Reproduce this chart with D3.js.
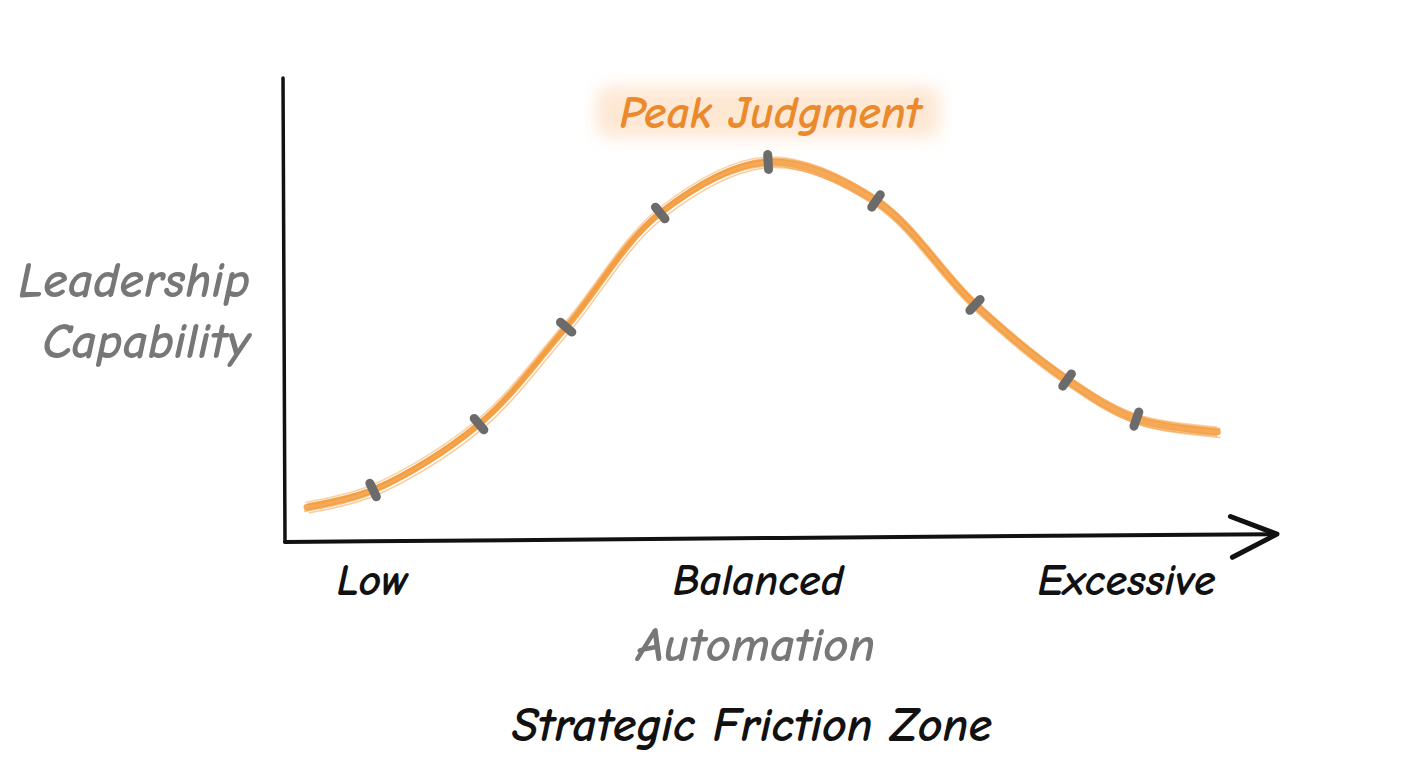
<!DOCTYPE html>
<html>
<head>
<meta charset="utf-8">
<script src="https://cdn.jsdelivr.net/npm/d3@7"></script>
<style>
  body { margin: 0; background: #fff; }
  svg text { font-family: "Comic Sans MS", "Comic Neue", Inter, Lato, sans-serif; font-style: italic; font-weight: 600; }
</style>
</head>
<body>
<svg id="chart" width="1408" height="768"></svg>
<script>
// automation level (x) vs leadership capability (y)
const automation = [0.22, 0.89, 1.96, 2.84, 3.79, 4.88, 5.97, 6.97, 7.9, 8.6, 9.42]
const capability = [7.5, 11.2, 25.4, 46.3, 70.9, 81.9, 73.5, 51.1, 34.9, 26.5, 23.7]
const markerIdx = [1, 2, 3, 4, 5, 6, 7, 8, 9]
const tickValues = [0.88, 4.78, 8.5]
const tickLabels = ["Low", "Balanced", "Excessive"]
const peakLabel = "Peak Judgment"
const yLabel = ["Leadership", "Capability"]
const xLabel = "Automation"
const zoneLabel = "Strategic Friction Zone"

const svg = d3.select("#chart")

const x = d3.scaleLinear().domain([0, 10]).range([285, 1275])
const y = d3.scaleLinear().domain([0, 100]).range([542, 78])

const D = automation.map((v, i) => ({x: v, y: capability[i]}))

// soft glow behind the peak label
const defs = svg.append("defs")
defs.append("filter").attr("id", "glow")
    .attr("x", "-20%").attr("y", "-60%").attr("width", "140%").attr("height", "220%")
  .append("feGaussianBlur").attr("stdDeviation", 8)

// axes, hand drawn-ish
const axisLine = d3.line().curve(d3.curveBasis)
svg.append("path")
    .attr("d", axisLine([[x(-0.02), y(100)], [x(-0.01), y(50)], [x(0), y(0)]]))
    .attr("fill", "none").attr("stroke", "#111").attr("stroke-width", 3.5)
    .attr("stroke-linecap", "round")
svg.append("path")
    .attr("d", axisLine([[x(0), y(0)], [x(5), y(0.9)], [x(10.02), y(1.7)]]))
    .attr("fill", "none").attr("stroke", "#111").attr("stroke-width", 4)
    .attr("stroke-linecap", "round")
svg.append("path")
    .attr("d", d3.line()([[x(9.55), y(5.5)], [x(10.02), y(1.7)], [x(9.57), y(-3.3)]]))
    .attr("fill", "none").attr("stroke", "#111").attr("stroke-width", 5)
    .attr("stroke-linecap", "round").attr("stroke-linejoin", "round")

// the curve, several loose strokes
const curve = d3.line()
    .x(d => x(d.x))
    .y(d => y(d.y))
    .curve(d3.curveCatmullRom.alpha(0.5))

const passes = [
  {dx: 0, dy: 0, w: 6.5, o: 0.85},
  {dx: 1.5, dy: -3, w: 2.5, o: 0.7},
  {dx: -1.5, dy: 3.5, w: 2.5, o: 0.65},
  {dx: 2.5, dy: 5.5, w: 1.5, o: 0.5},
  {dx: -1, dy: -5, w: 1.5, o: 0.45}
]
svg.append("g").attr("class", "curve")
  .selectAll("path").data(passes).enter().append("path")
    .attr("d", curve(D))
    .attr("transform", p => "translate(" + p.dx + "," + p.dy + ")")
    .attr("fill", "none")
    .attr("stroke", "#f39a3a")
    .attr("stroke-width", p => p.w)
    .attr("stroke-opacity", p => p.o)
    .attr("stroke-linecap", "round")

// tick marks across the curve
const markers = markerIdx.map(i => {
  const a = D[i - 1], b = D[i + 1]
  const ang = Math.atan2(y(b.y) - y(a.y), x(b.x) - x(a.x)) * 180 / Math.PI
  return {px: x(D[i].x), py: y(D[i].y), ang: ang}
})
svg.append("g").attr("class", "markers")
  .selectAll("rect").data(markers).enter().append("rect")
    .attr("x", -4.5).attr("y", -12)
    .attr("width", 9).attr("height", 24)
    .attr("rx", 4.5)
    .attr("fill", "#6b6b6b")
    .attr("transform", d => "translate(" + d.px + "," + d.py + ") rotate(" + d.ang + ")")

// peak label
const peakX = x(D[5].x)
svg.append("rect")
    .attr("x", peakX - 172).attr("y", 86)
    .attr("width", 344).attr("height", 52)
    .attr("rx", 14)
    .attr("fill", "#fddcbd")
    .attr("opacity", 0.65)
    .attr("filter", "url(#glow)")
svg.append("text")
    .attr("x", peakX + 2).attr("y", 128)
    .attr("text-anchor", "middle")
    .attr("fill", "#ea8a2c")
    .attr("font-size", 46)
    .text(peakLabel)

// y label
svg.append("g").selectAll("text").data(yLabel).enter().append("text")
    .attr("x", 250)
    .attr("y", (d, i) => 297 + i * 61)
    .attr("text-anchor", "end")
    .attr("fill", "#777")
    .attr("font-size", 50)
    .text(d => d)

// x tick labels
svg.append("g").selectAll("text").data(tickLabels).enter().append("text")
    .attr("x", (d, i) => x(tickValues[i]))
    .attr("y", 595)
    .attr("text-anchor", "middle")
    .attr("fill", "#111")
    .attr("font-size", 44)
    .text(d => d)

svg.append("text")
    .attr("x", 756).attr("y", 661)
    .attr("text-anchor", "middle")
    .attr("fill", "#777")
    .attr("font-size", 49)
    .text(xLabel)

svg.append("text")
    .attr("x", 752).attr("y", 741)
    .attr("text-anchor", "middle")
    .attr("fill", "#111")
    .attr("font-size", 48)
    .text(zoneLabel)
</script>
</body>
</html>
